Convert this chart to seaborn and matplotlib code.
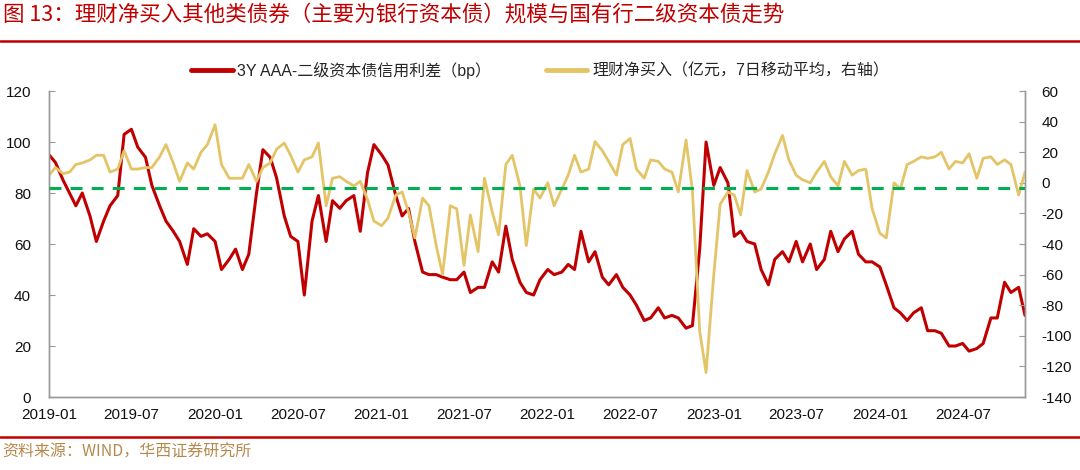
import numpy as np
import pandas as pd
import matplotlib
matplotlib.use("Agg")
import matplotlib.pyplot as plt
import matplotlib.dates as mdates
from matplotlib.lines import Line2D
import seaborn as sns

# --- Data (semi-monthly readings, 1st / 15th of each month) ---
START_DATE = "2019-01-01"

spread_bp = [
    # 2019
    95, 92, 85, 80, 75, 80, 71, 61, 69, 75, 79, 103,
    105, 98, 94, 83, 75, 69, 65, 61, 52, 66, 63, 64,
    # 2020
    61, 50, 54, 58, 50, 56, 80, 97, 94, 86, 71, 63,
    61, 40, 69, 79, 61, 77, 74, 77, 79, 65, 88, 99,
    # 2021
    95, 91, 79, 71, 74, 61, 49, 48, 48, 47, 46, 46,
    49, 41, 43, 43, 53, 49, 67, 54, 45, 41, 40, 46,
    # 2022
    50, 48, 49, 52, 50, 65, 53, 57, 47, 44, 48, 43,
    40, 36, 30, 31, 35, 31, 32, 31, 27, 28, 58, 100,
    # 2023
    83, 90, 84, 63, 65, 61, 60, 50, 44, 54, 57, 53,
    61, 53, 60, 50, 54, 65, 57, 62, 65, 56, 53, 53,
    # 2024
    51, 44, 35, 33, 30, 33, 35, 26, 26, 25, 20, 20,
    21, 18, 19, 21, 31, 31, 45, 41, 43, 32,
]

wm_net_buy = [
    # 2019
    5, 10, 6, 7, 12, 13, 15, 18, 18, 7, 9, 21,
    9, 9, 10, 10, 17, 25, 13, 1, 13, 9, 20, 25,
    # 2020
    38, 12, 3, 3, 3, 12, 1, 10, 13, 22, 26, 18,
    7, 15, 17, 26, -15, 3, 4, 1, -2, 1, -11, -25,
    # 2021
    -28, -23, -8, -6, -19, -36, -10, -15, -41, -60, -15, -17,
    -54, -21, -45, 3, -19, -34, 12, 18, -2, -41, -4, -10,
    # 2022
    0, -15, -4, 5, 18, 7, 9, 27, 21, 14, 5, 25,
    29, 9, 3, 15, 14, 9, 7, -6, 28, -5, -97, -124,
    # 2023
    -60, -14, -6, -8, -21, 8, -6, -4, 7, 19, 31, 15,
    5, 2, 0, 7, 14, 4, -2, 14, 5, 8, 9, -17,
    # 2024
    -33, -36, 0, -4, 12, 14, 17, 16, 17, 20, 9, 14,
    13, 19, 3, 16, 17, 12, 15, 12, -8, 7,
]

ZERO_REF = -3.5  # green dashed reference, right axis

TITLE = "图 13：理财净买入其他类债券（主要为银行资本债）规模与国有行二级资本债走势"
LABEL_SPREAD = "3Y AAA-二级资本债信用利差（bp）"
LABEL_BUY = "理财净买入（亿元，7日移动平均，右轴）"
SOURCE = "资料来源：WIND，华西证券研究所"

RED = "#C00000"
GOLD = "#E3C567"
GREEN = "#00B050"


def plot():
    sns.set_style("white")
    plt.rcParams["font.family"] = ["Liberation Sans", "Noto Sans CJK SC"]
    plt.rcParams["axes.unicode_minus"] = False

    dates = pd.date_range(START_DATE, periods=len(spread_bp), freq="SMS")
    df = pd.DataFrame({"date": dates, "spread": spread_bp, "buy": wm_net_buy})

    fig = plt.figure(figsize=(10.8, 4.7), dpi=100)
    ax = fig.add_axes([0.0454, 0.1553, 0.9037, 0.651])
    ax2 = ax.twinx()

    sns.lineplot(data=df, x="date", y="spread", ax=ax, color=RED, lw=2.2,
                 label=LABEL_SPREAD, legend=False)
    sns.lineplot(data=df, x="date", y="buy", ax=ax2, color=GOLD, lw=2.0,
                 label=LABEL_BUY, legend=False)
    ax2.axhline(ZERO_REF, color=GREEN, lw=2.2, dashes=(3.9, 3.0), zorder=5)

    # --- Axes ---
    ax.set_xlim(dates[0], dates[-1])
    ax.set_ylim(0, 120)
    ax.set_yticks(np.arange(0, 121, 20))
    ax2.set_ylim(-140, 60)
    ax2.set_yticks(np.arange(-140, 61, 20))
    ax.xaxis.set_major_locator(mdates.MonthLocator(bymonth=[1, 7]))
    ax.xaxis.set_major_formatter(mdates.DateFormatter("%Y-%m"))
    ax.set_xlabel("")
    ax.set_ylabel("")
    ax2.set_ylabel("")

    for a in (ax, ax2):
        a.spines["top"].set_visible(False)
        for s in ("left", "right", "bottom"):
            a.spines[s].set_color("#999999")
            a.spines[s].set_linewidth(1.0)
        a.grid(False)
    ax.tick_params(axis="both", direction="in", length=4, color="#999999",
                   labelsize=11, labelcolor="#111111")
    ax.tick_params(axis="y", pad=13)
    ax.tick_params(axis="x", pad=8)
    ax2.tick_params(axis="y", direction="in", length=4, color="#999999",
                    labelsize=11, labelcolor="#111111", pad=12)

    # --- Legend ---
    handles = [Line2D([], [], color=RED, lw=3.5), Line2D([], [], color=GOLD, lw=3.5)]
    fig.legend(handles, [LABEL_SPREAD, LABEL_BUY], loc="center",
               bbox_to_anchor=(0.5, 0.851), ncol=2, frameon=False,
               fontsize=11.5, handlelength=2.6, handletextpad=0.3,
               columnspacing=3.4)

    # --- Title / source ---
    fig.text(0.003, 0.970, TITLE, fontsize=15.5, color=RED, va="center",
             family=["Noto Sans CJK SC", "DejaVu Sans"])
    fig.add_artist(Line2D([0, 1], [0.913, 0.913], transform=fig.transFigure,
                          color=RED, lw=1.8))
    fig.add_artist(Line2D([0, 1], [0.071, 0.071], transform=fig.transFigure,
                          color=RED, lw=1.8))
    fig.text(0.002, 0.038, SOURCE, fontsize=11.5, color="#B5894E", va="center",
             family=["Noto Sans CJK SC", "DejaVu Sans"])

    fig.savefig("out.png", dpi=100)
    plt.close(fig)


if __name__ == "__main__":
    plot()
